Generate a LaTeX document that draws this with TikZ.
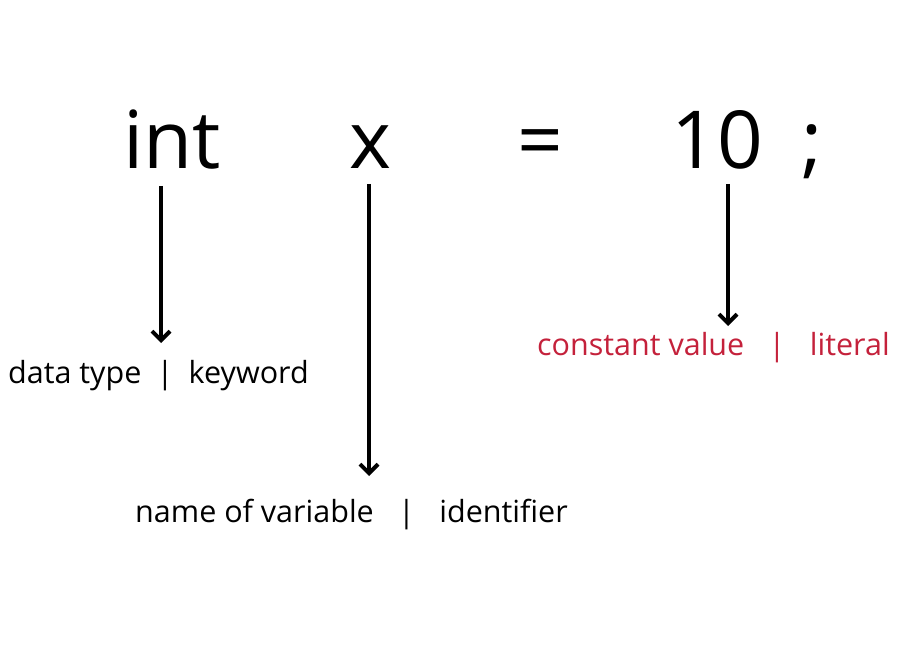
\documentclass[tikz,border=0pt]{standalone}
\usepackage{fontspec}
\setmainfont{Open Sans}
\usetikzlibrary{arrows.meta}
\definecolor{litred}{HTML}{C4213B}
\begin{document}
\begin{tikzpicture}[x=1pt,y=-1pt,
  big/.style={font=\fontsize{80}{80}\selectfont, anchor=base, inner sep=0},
  lbl/.style={font=\fontsize{30.5}{30.5}\selectfont, anchor=base west, inner sep=0},
  pointer/.style={line width=4pt, -{Straight Barb[length=9pt,width=18pt,line width=4pt]}}]
\useasboundingbox (0,0) rectangle (900,650);
\node[big] (int) at (172,168) {int};
\node[big] (x) at (370,168) {x};
\node[big] (eq) at (540,168) {=};
\node[big] (ten) at (717,168) {10};
\node[big] (semi) at (812,168) {;};
\node[lbl] (dt) at (8,383) {data type\hspace{0.5em}|\hspace{0.5em}keyword};
\node[lbl, text=litred] (cv) at (537,355) {constant value\hspace{0.8em}|\hspace{0.8em}literal};
\node[lbl] (nv) at (135,522) {name of variable\hspace{0.8em}|\hspace{0.8em}identifier};
\coordinate (a1) at (161,186);
\coordinate (b1) at (161,343);
\coordinate (a2) at (369,184);
\coordinate (b2) at (369,476);
\coordinate (a3) at (728,184);
\coordinate (b3) at (728,326);
\draw[pointer] (a1) -- (b1);
\draw[pointer] (a2) -- (b2);
\draw[pointer] (a3) -- (b3);
\end{tikzpicture}
\end{document}
